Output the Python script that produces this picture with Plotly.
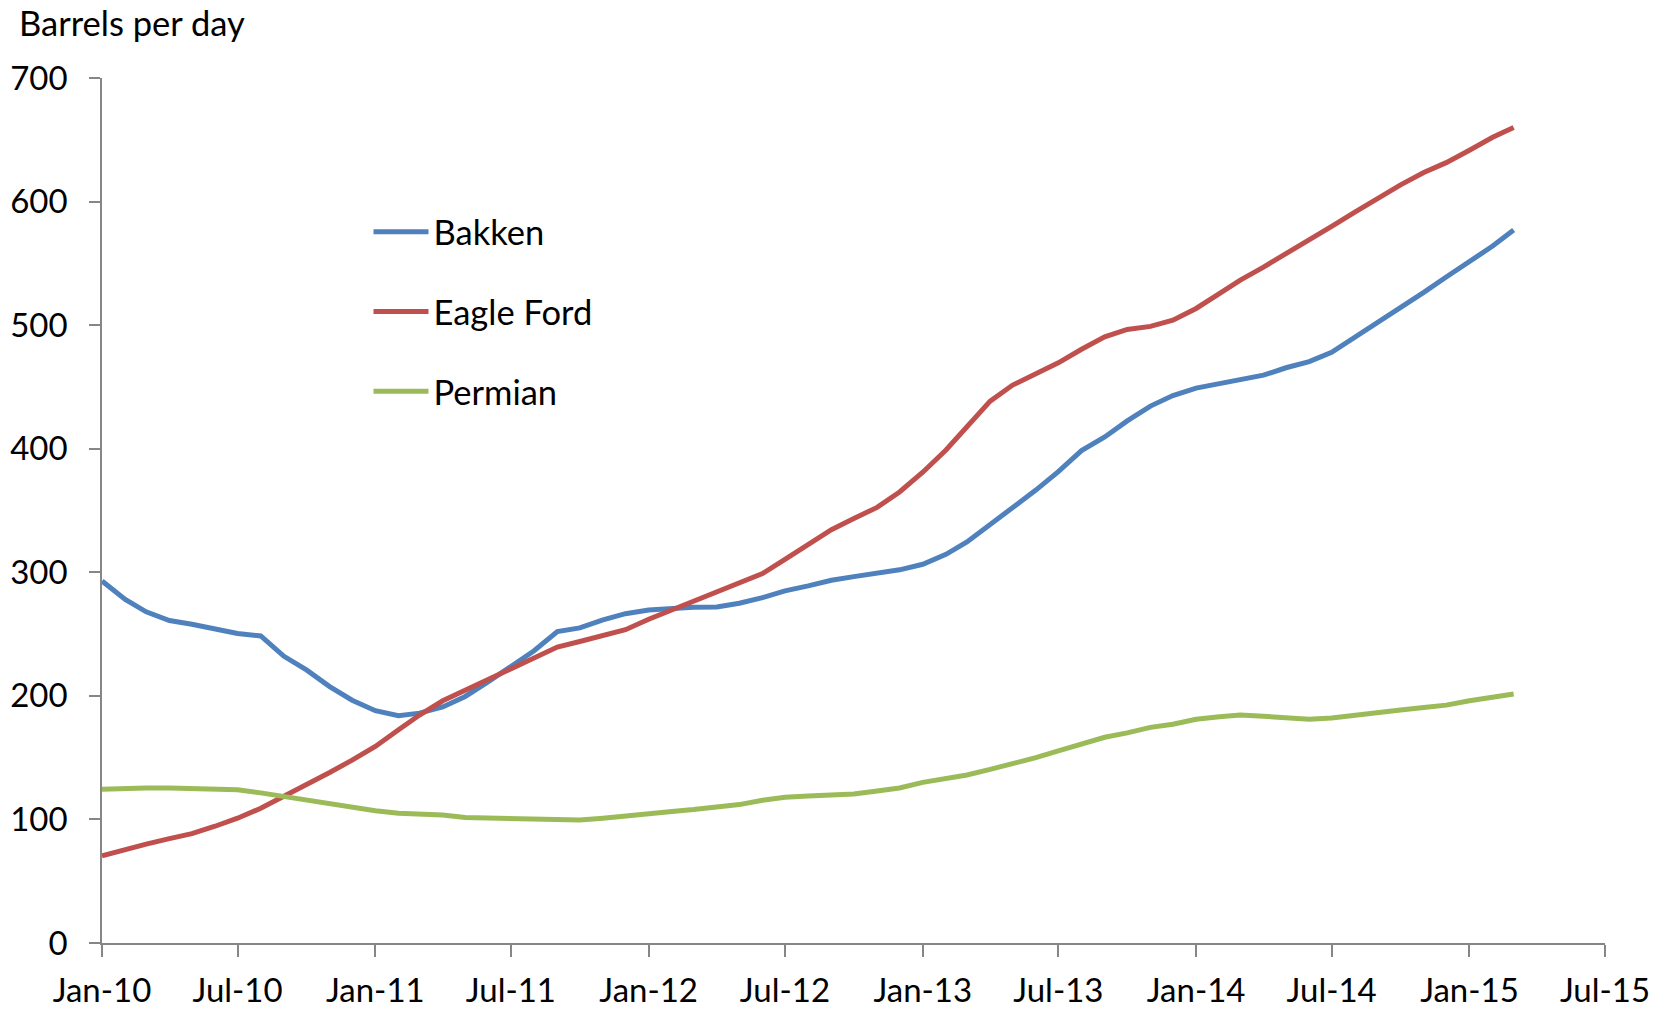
import plotly.graph_objects as go
import pandas as pd

months = pd.date_range("2010-01-01", "2015-03-01", freq="MS").strftime("%Y-%m-%d").tolist()

bakken = [293, 278, 268, 261, 258, 254.5, 250.5, 248.5, 232, 221, 207.5, 196.5, 188, 184, 186, 191,
          199.5, 211.5, 223.5, 236.5, 252, 255, 261.5, 266.5, 269.5, 271, 271.8, 272, 275, 279.5,
          285, 289, 293.5, 296.5, 299, 302, 306.5, 314.5, 324.5, 338.5, 351.5, 366.5, 381.5, 398.5,
          409.5, 422.5, 434.5, 443, 449, 452.5, 456, 459.5, 465.5, 470.5, 478, 490, 502.5, 514.5,
          526.5, 539, 551, 564, 577]

eagle_ford = [70.5, 76, 80, 84.5, 88.5, 94.5, 101, 109, 118.5, 128, 138, 148, 159, 172.5, 184.5, 196,
              204.5, 213.5, 222, 231.5, 239.5, 244, 248.5, 253.5, 262, 269.5, 276, 284, 291, 299,
              310.5, 322.5, 334.5, 343.5, 352.5, 365, 381, 399, 418, 438.5, 451.5, 461, 469.5, 480.5,
              490.5, 496.5, 499, 504, 513.5, 525.5, 536.5, 547, 557.5, 569.5, 580, 591.5, 603, 613.5,
              623.5, 631.5, 641.5, 652, 660]

permian = [124.5, 125.5, 125.5, 125.5, 125, 124, 124, 121.5, 118.5, 115, 112, 109, 107, 105, 104.5, 103.5,
           101.5, 101, 101, 100.3, 99, 99.5, 101, 103, 104.5, 106.5, 108, 110, 112, 115.5,
           118, 119, 119.5, 120.5, 123, 125.5, 130, 133, 136, 140.5, 145, 150, 155.5, 160.5,
           166.5, 170, 174.5, 177, 181, 183, 184.5, 183.5, 182, 181, 182, 184.5, 186.5, 188.5,
           190.5, 192.5, 196, 199, 201.5]

series = [("Bakken", bakken, "#4F81BD"),
          ("Eagle Ford", eagle_ford, "#C0504D"),
          ("Permian", permian, "#9BBB59")]

y_ticks = [0, 100, 200, 300, 400, 500, 600, 700]
x_tickvals = ["2010-01-01", "2010-07-01", "2011-01-01", "2011-07-01", "2012-01-01", "2012-07-01",
              "2013-01-01", "2013-07-01", "2014-01-01", "2014-07-01", "2015-01-01", "2015-07-01"]
x_ticktext = ["Jan-10", "Jul-10", "Jan-11", "Jul-11", "Jan-12", "Jul-12",
              "Jan-13", "Jul-13", "Jan-14", "Jul-14", "Jan-15", "Jul-15"]

FONT = "Lato, 'Open Sans', sans-serif"
FS = 33
FS_BIG = 34.5

fig = go.Figure()
for name, vals, color in series:
    fig.add_trace(go.Scatter(x=months, y=vals, name=name, mode="lines",
                             line=dict(color=color, width=5), legendgroup=name))

axis_color = "#868686"
fig.update_layout(
    width=1659, height=1001,
    margin=dict(l=94, r=62, t=70, b=66, autoexpand=False),
    plot_bgcolor="white", paper_bgcolor="white",
    font=dict(family=FONT, size=FS, color="black"),
    showlegend=True,
    legend=dict(x=0.1773, y=0.8558, xanchor="left", yanchor="top",
                bgcolor="rgba(0,0,0,0)", font=dict(size=FS_BIG, color="black"),
                tracegroupgap=32, itemwidth=55),
    xaxis=dict(type="date", range=["2010-01-01", "2015-07-01"], automargin=False,
               tickvals=x_tickvals, ticktext=x_ticktext,
               showgrid=False, zeroline=False, showline=True, linecolor=axis_color, linewidth=1.6,
               ticks="outside", ticklen=12, tickwidth=1.6, tickcolor=axis_color,
               ticklabelstandoff=6, tickfont=dict(size=FS, color="black")),
    yaxis=dict(range=[0, 700], tickvals=y_ticks, automargin=False,
               showgrid=False, zeroline=False, showline=True, linecolor=axis_color, linewidth=1.6,
               ticks="outside", ticklen=11, tickwidth=1.6, tickcolor=axis_color,
               ticklabelstandoff=15, tickfont=dict(size=FS, color="black")),
    annotations=[dict(text="Barrels per day", xref="paper", yref="paper",
                      x=-0.0565, y=1.0645, xanchor="left", yanchor="middle",
                      showarrow=False, font=dict(size=FS_BIG, color="black"))],
)

fig.write_html("out.html")
